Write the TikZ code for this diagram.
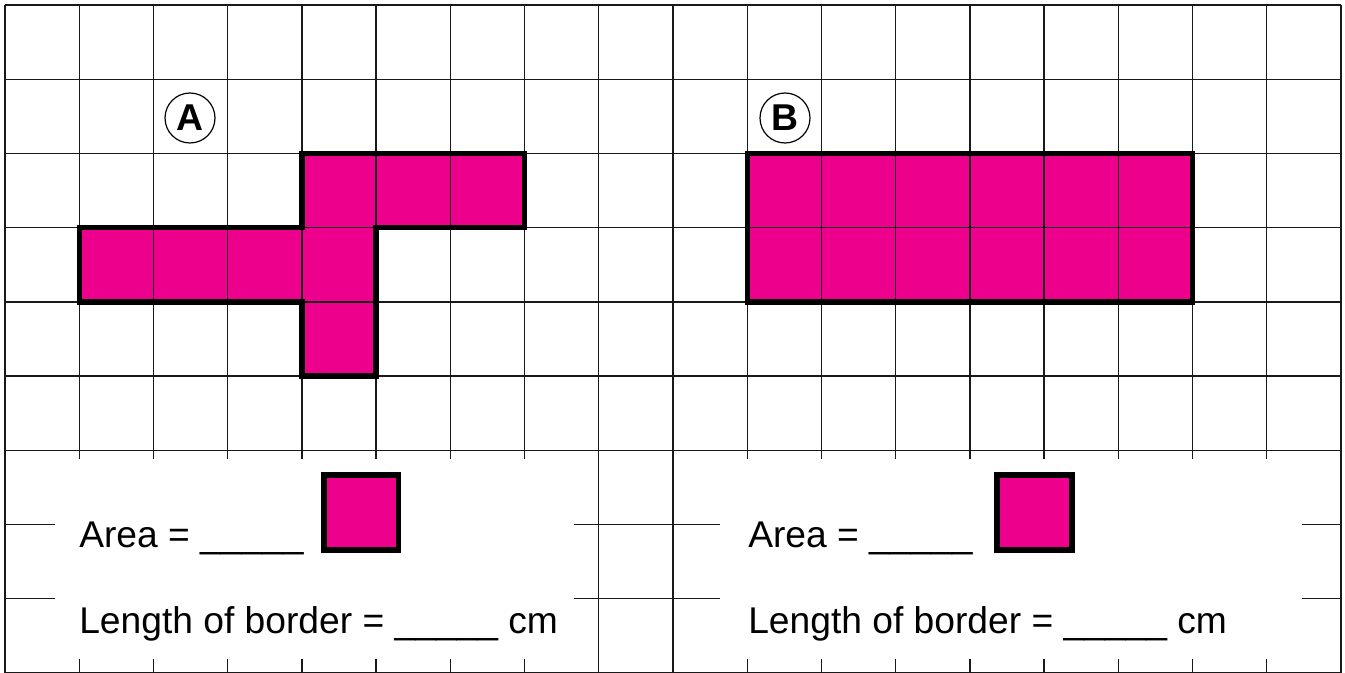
\documentclass[tikz,border=0pt]{standalone}
\usepackage{fontspec}
\setmainfont{Liberation Sans}
\definecolor{shapemag}{RGB}{236,0,140}
\begin{document}
\begin{tikzpicture}[x=0.75pt,y=-0.75pt,
  gridline/.style={draw=black!90,line width=1pt},
  outline/.style={draw=black,line width=4pt,line join=miter},
  magfill/.style={fill=shapemag},
  panel/.style={fill=white,draw=none},
  lbl/.style={draw=black,line width=0.9pt,circle,minimum size=37.5pt,inner sep=0pt,font=\fontsize{28}{32}\selectfont\bfseries},
  txt/.style={anchor=base west,inner sep=0pt,font=\fontsize{27.9}{34}\selectfont},
  unitsq/.style={draw=black,line width=4pt,fill=shapemag}]
\useasboundingbox (0,0) rectangle (1345,673);
% shape A corners
\coordinate (a1) at (301.9,153.4);
\coordinate (a2) at (524.6,153.4);
\coordinate (a3) at (524.6,227.7);
\coordinate (a4) at (376.1,227.7);
\coordinate (a5) at (376.1,376.1);
\coordinate (a6) at (301.9,376.1);
\coordinate (a7) at (301.9,301.9);
\coordinate (a8) at (79.2,301.9);
\coordinate (a9) at (79.2,227.7);
\coordinate (a10) at (301.9,227.7);
\coordinate (b1) at (747.2,153.4);
\coordinate (b2) at (1192.6,301.9);
\fill[magfill] (a1) -- (a2) -- (a3) -- (a4) -- (a5) -- (a6) -- (a7) -- (a8) -- (a9) -- (a10) -- cycle;
\fill[magfill] (b1) rectangle (b2);
% grid
\foreach \i in {0,...,18} \draw[gridline] ({5+74.222*\i},5) -- ({5+74.222*\i},673);
\foreach \j in {0,...,9} \draw[gridline] (5,{5+74.222*\j}) -- (1341,{5+74.222*\j});
% outlines
\draw[outline] (a1) -- (a2) -- (a3) -- (a4) -- (a5) -- (a6) -- (a7) -- (a8) -- (a9) -- (a10) -- cycle;
\draw[outline] (b1) rectangle (b2);
% labels
\node[lbl,fill=white] (labA) at (190,118) {A};
\node[lbl,fill=white] (labB) at (785,118) {B};
% bottom panels
\fill[panel] (55,459) rectangle (574,659);
\fill[panel] (720,459) rectangle (1302,659);
\node[txt] (areaA) at (79,547) {Area = \_\_\_\_\_};
\node[txt] (lenA) at (79,633) {Length of border = \_\_\_\_\_ cm};
\node[txt] (areaB) at (748,547) {Area = \_\_\_\_\_};
\node[txt] (lenB) at (748,633) {Length of border = \_\_\_\_\_ cm};
\draw[unitsq] (324,475) rectangle (398.5,550) node[pos=0.5,inner sep=0] (sqA) {};
\draw[unitsq] (997,475) rectangle (1072,550) node[pos=0.5,inner sep=0] (sqB) {};
\end{tikzpicture}
\end{document}
